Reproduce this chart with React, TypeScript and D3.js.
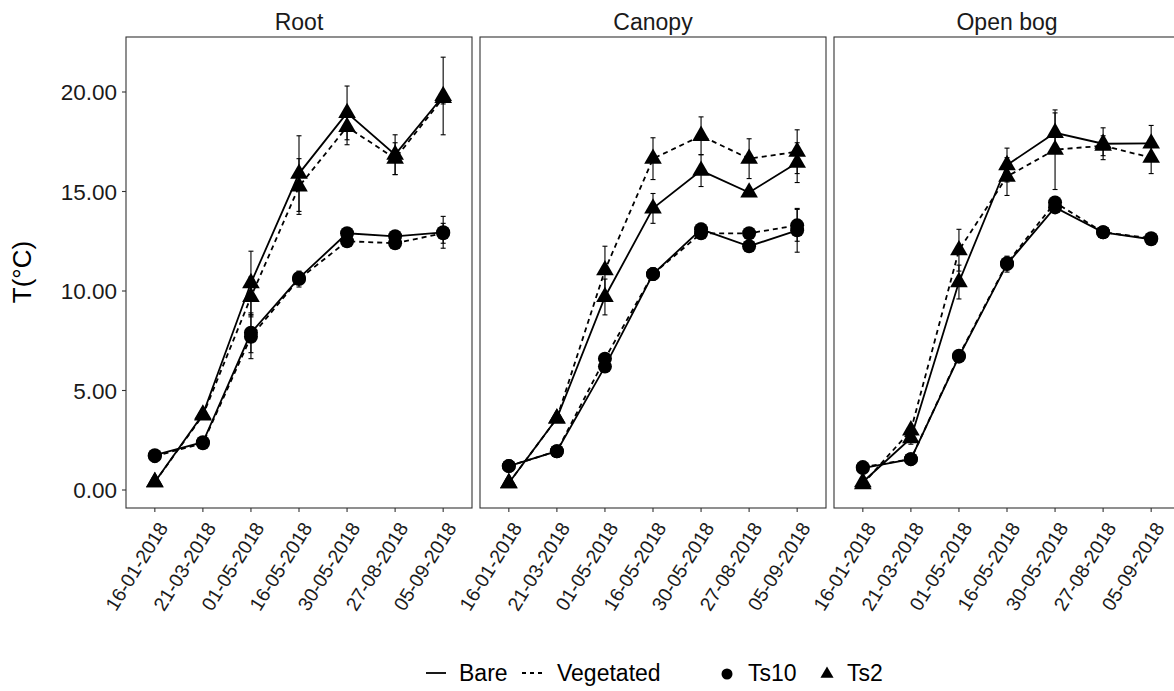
import React from "react";
import * as d3 from "d3";

const dates = ["16-01-2018", "21-03-2018", "01-05-2018", "16-05-2018", "30-05-2018", "27-08-2018", "05-09-2018"];
const panels = ["Root", "Canopy", "Open bog"];
const yTicks = [0, 5, 10, 15, 20];

// Root
const rootTs10Bare = [1.75, 2.4, 7.9, 10.65, 12.9, 12.75, 12.95];
const rootTs10BareErr = [0.2, 0.15, 1.0, 0.3, 0.15, 0.15, 0.8];
const rootTs10Veg = [1.7, 2.35, 7.7, 10.6, 12.5, 12.4, 12.9];
const rootTs10VegErr = [0.3, 0.15, 1.1, 0.4, 0.2, 0.2, 0.5];
const rootTs2Bare = [0.4, 3.8, 10.4, 15.9, 18.95, 16.85, 19.8];
const rootTs2BareErr = [0.1, 0.2, 1.6, 1.9, 1.35, 1.0, 1.95];
const rootTs2Veg = [0.4, 3.75, 9.7, 15.25, 18.25, 16.65, 19.7];
const rootTs2VegErr = [0.1, 0.2, 1.0, 1.4, 0.9, 0.8, 0.3];

// Canopy
const canopyTs10Bare = [1.2, 1.95, 6.2, 10.85, 13.1, 12.25, 13.05];
const canopyTs10BareErr = [0.15, 0.15, 0.2, 0.2, 0.3, 0.15, 1.1];
const canopyTs10Veg = [1.2, 1.95, 6.6, 10.85, 12.9, 12.9, 13.3];
const canopyTs10VegErr = [0.15, 0.15, 0.2, 0.3, 0.2, 0.1, 0.8];
const canopyTs2Bare = [0.35, 3.6, 9.7, 14.15, 16.05, 14.95, 16.45];
const canopyTs2BareErr = [0.1, 0.2, 0.9, 0.75, 0.8, 0.2, 1.0];
const canopyTs2Veg = [0.35, 3.6, 11.05, 16.65, 17.8, 16.65, 17.0];
const canopyTs2VegErr = [0.1, 0.2, 1.2, 1.05, 0.95, 1.0, 1.1];

// Open bog
const bogTs10Bare = [1.1, 1.55, 6.7, 11.35, 14.2, 12.95, 12.6];
const bogTs10BareErr = [0.15, 0.15, 0.2, 0.4, 0.2, 0.15, 0.15];
const bogTs10Veg = [1.15, 1.55, 6.75, 11.4, 14.45, 12.95, 12.65];
const bogTs10VegErr = [0.15, 0.15, 0.2, 0.3, 0.3, 0.15, 0.15];
const bogTs2Bare = [0.4, 2.6, 10.45, 16.33, 17.95, 17.4, 17.42];
const bogTs2BareErr = [0.1, 0.3, 0.85, 0.85, 1.0, 0.8, 0.9];
const bogTs2Veg = [0.3, 3.0, 12.05, 15.75, 17.1, 17.3, 16.7];
const bogTs2VegErr = [0.1, 0.2, 1.05, 0.95, 2.0, 0.5, 0.8];

const panelData = [
  [
    { depth: "Ts10", cover: "Bare", v: rootTs10Bare, e: rootTs10BareErr },
    { depth: "Ts10", cover: "Vegetated", v: rootTs10Veg, e: rootTs10VegErr },
    { depth: "Ts2", cover: "Bare", v: rootTs2Bare, e: rootTs2BareErr },
    { depth: "Ts2", cover: "Vegetated", v: rootTs2Veg, e: rootTs2VegErr },
  ],
  [
    { depth: "Ts10", cover: "Bare", v: canopyTs10Bare, e: canopyTs10BareErr },
    { depth: "Ts10", cover: "Vegetated", v: canopyTs10Veg, e: canopyTs10VegErr },
    { depth: "Ts2", cover: "Bare", v: canopyTs2Bare, e: canopyTs2BareErr },
    { depth: "Ts2", cover: "Vegetated", v: canopyTs2Veg, e: canopyTs2VegErr },
  ],
  [
    { depth: "Ts10", cover: "Bare", v: bogTs10Bare, e: bogTs10BareErr },
    { depth: "Ts10", cover: "Vegetated", v: bogTs10Veg, e: bogTs10VegErr },
    { depth: "Ts2", cover: "Bare", v: bogTs2Bare, e: bogTs2BareErr },
    { depth: "Ts2", cover: "Vegetated", v: bogTs2Veg, e: bogTs2VegErr },
  ],
];

const W = 1174;
const H = 691;
const panelLefts = [126, 480, 834];
const panelW = 346;
const top = 37;
const bottom = 508;
const FONT = "Liberation Sans, Arial, sans-serif";

export default function App() {
  const y = d3.scaleLinear().domain([0, 20]).range([490, 92]);
  const tri = d3.symbol().type(d3.symbolTriangle).size(135)();
  const legendTri = d3.symbol().type(d3.symbolTriangle).size(75)();

  return (
    <svg width={W} height={H} style={{ position: "absolute", left: 0, top: 0, background: "#fff" }} fontFamily={FONT}>
      <rect x={0} y={0} width={W} height={H} fill="#fff" />
      {/* y axis title */}
      <text x={0} y={0} transform={`translate(31,272) rotate(-90)`} textAnchor="middle" fontSize={26} fill="#000">
        T(°C)
      </text>
      {/* y ticks */}
      {yTicks.map((t) => (
        <g key={t}>
          <line x1={122} x2={126} y1={y(t)} y2={y(t)} stroke="#333" strokeWidth={1.1} />
          <text x={117} y={y(t)} dy="0.36em" textAnchor="end" fontSize={22.5} fill="#1a1a1a">
            {t.toFixed(2)}
          </text>
        </g>
      ))}
      {panels.map((p, pi) => {
        const left = panelLefts[pi];
        const x = d3.scalePoint<string>().domain(dates).range([left, left + panelW]).padding(0.6);
        const series = panelData[pi];
        const line = d3
          .line<number>()
          .x((_, i) => x(dates[i]) as number)
          .y((d) => y(d));
        return (
          <g key={p}>
            <text x={left + panelW / 2} y={22} dy="0.36em" textAnchor="middle" fontSize={23} fill="#1a1a1a">
              {p}
            </text>
            {/* error bars */}
            {series.map((s, si) =>
              s.v.map((v, i) => {
                const cx = x(dates[i]) as number;
                const y1 = y(v + s.e[i]);
                const y2 = y(v - s.e[i]);
                return (
                  <g key={`e${si}-${i}`} stroke="#000" strokeWidth={1.1}>
                    <line x1={cx} x2={cx} y1={y1} y2={y2} />
                    <line x1={cx - 2.5} x2={cx + 2.5} y1={y1} y2={y1} />
                    <line x1={cx - 2.5} x2={cx + 2.5} y1={y2} y2={y2} />
                  </g>
                );
              })
            )}
            {/* lines */}
            {series.map((s, si) => (
              <path
                key={`l${si}`}
                d={line(s.v) as string}
                fill="none"
                stroke="#000"
                strokeWidth={1.8}
                strokeDasharray={s.cover === "Vegetated" ? "5,4" : undefined}
              />
            ))}
            {/* points */}
            {series.map((s, si) =>
              s.v.map((v, i) => {
                const cx = x(dates[i]) as number;
                const cy = y(v);
                return s.depth === "Ts10" ? (
                  <circle key={`p${si}-${i}`} cx={cx} cy={cy} r={7} fill="#000" />
                ) : (
                  <path key={`p${si}-${i}`} d={tri} transform={`translate(${cx},${cy})`} fill="#000" />
                );
              })
            )}
            {/* panel border */}
            <rect x={left} y={top} width={panelW} height={bottom - top} fill="none" stroke="#333" strokeWidth={1.1} />
            {/* x ticks */}
            {dates.map((d) => {
              const cx = x(d) as number;
              return (
                <g key={d}>
                  <line x1={cx} x2={cx} y1={bottom} y2={bottom + 4} stroke="#333" strokeWidth={1.1} />
                  <text
                    x={0}
                    y={0}
                    transform={`translate(${cx + 8},${bottom + 16}) rotate(-58)`}
                    textAnchor="end"
                    dy="0.36em"
                    fontSize={19.5}
                    fill="#1a1a1a"
                  >
                    {d}
                  </text>
                </g>
              );
            })}
          </g>
        );
      })}
      {/* legend */}
      <g>
        <line x1={426} x2={446} y1={673} y2={673} stroke="#000" strokeWidth={1.8} />
        <text x={459} y={673} dy="0.36em" fontSize={23} fill="#000">Bare</text>
        <line x1={522} x2={544} y1={673} y2={673} stroke="#000" strokeWidth={1.8} strokeDasharray="4,4" />
        <text x={557} y={673} dy="0.36em" fontSize={23} fill="#000">Vegetated</text>
        <circle cx={727} cy={674} r={5.5} fill="#000" />
        <text x={748} y={673} dy="0.36em" fontSize={23} fill="#000">Ts10</text>
        <path d={legendTri} transform="translate(827,674)" fill="#000" />
        <text x={847} y={673} dy="0.36em" fontSize={23} fill="#000">Ts2</text>
      </g>
    </svg>
  );
}
